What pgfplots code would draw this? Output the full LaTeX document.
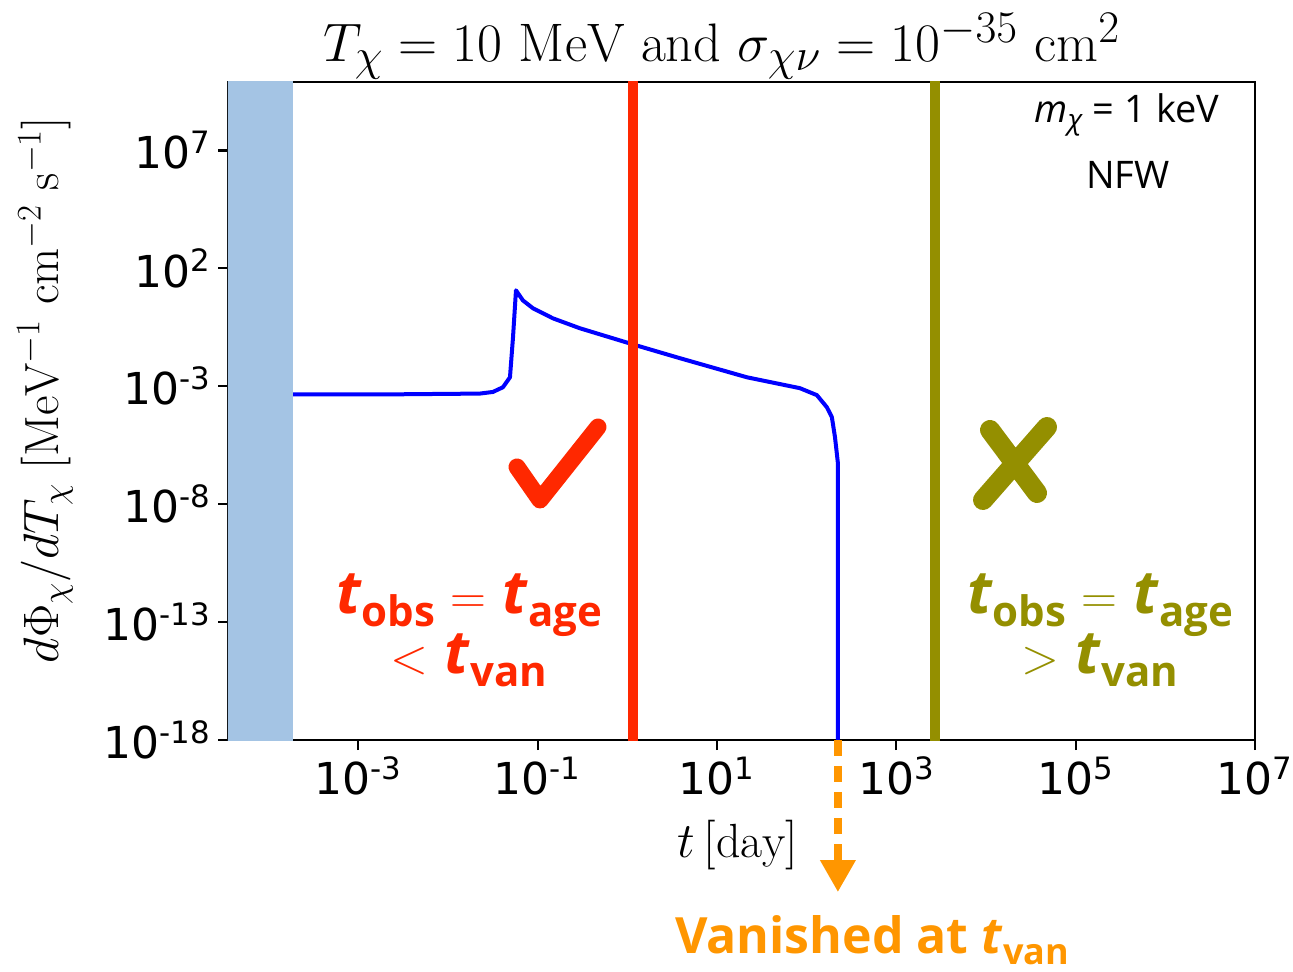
\documentclass[border=0pt]{standalone}
\usepackage{fontspec}
\usepackage{pgfplots}
\pgfplotsset{compat=1.18}
\usetikzlibrary{arrows.meta}

\newfontfamily\tickfont{DejaVu Sans}
\newfontfamily\annfont{Open Sans}

\definecolor{curveblue}{RGB}{0,0,255}
\definecolor{annred}{RGB}{255,40,0}
\definecolor{annolive}{RGB}{148,143,0}
\definecolor{annorange}{RGB}{255,150,0}
\definecolor{shadeblue}{RGB}{164,196,228}

% bold italic t with an upright bold subscript
\newcommand{\tsub}[2][21]{\textit{t}\raisebox{-0.22em}{\fontsize{#1}{#1}\selectfont #2}}
\newcommand{\tenp}[1]{10\textsuperscript{#1}}

\begin{document}
\begin{tikzpicture}
\path[use as bounding box] (-114pt,-116pt) rectangle (532.5pt,370pt);
\begin{axis}[
  at={(0,0)}, anchor=south west,
  scale only axis, width=513.5pt, height=329pt,
  xmode=log, ymode=log,
  xmin=3.52e-5, xmax=1e7, ymin=1e-18, ymax=8e9,
  xtick={1e-3,1e-1,1e1,1e3,1e5,1e7},
  xticklabels={\tenp{-3},\tenp{-1},\tenp{1},\tenp{3},\tenp{5},\tenp{7}},
  ytick={1e-18,1e-13,1e-8,1e-3,1e2,1e7},
  yticklabels={\tenp{-18},\tenp{-13},\tenp{-8},\tenp{-3},\tenp{2},\tenp{7}},
  minor xtick={}, minor ytick={},
  xminorticks=false, yminorticks=false,
  tick align=outside, xtick pos=left, ytick pos=left,
  major tick length=5pt,
  tick style={black, line width=1.1pt},
  axis line style={black, line width=1.3pt},
  ticklabel style={font=\tickfont\fontsize{22}{24}\selectfont},
  clip mode=individual,
]
% early-time band
\addplot[fill=shadeblue, draw=none] coordinates
  {(1e-6,1e-22) (1.87e-4,1e-22) (1.87e-4,1e12) (1e-6,1e12)} -- cycle;

% flux of the boosted component
\addplot[curveblue, line width=2pt, line join=round] coordinates {
  (1.87e-4,4.57e-4) (2.88e-3,4.57e-4) (0.0227,4.9e-4) (0.0317,5.75e-4)
  (0.0410,9.1e-4) (0.0491,2.4e-3) (0.0531,0.12) (0.0573,11.7)
  (0.0685,4.37) (0.0885,2.04) (0.148,0.76) (0.296,0.288)
  (1.15,0.060) (3.86,0.0155) (21.6,2.4e-3) (84.1,8.3e-4)
  (130,4.2e-4) (168,1.29e-4) (191,4.9e-5) (207,6.9e-6)
  (223,5.5e-7) (223,1e-22)
};

% observation times
\addplot[annred, line width=5pt] coordinates {(1.15,1e-22) (1.15,1e12)};
\addplot[annolive, line width=4.6pt] coordinates {(2700,1e-22) (2700,1e12)};

\coordinate (van) at (axis cs:223,1e-18);
\end{axis}

% vanishing time marker
\draw[annorange, line width=3.6pt, dash pattern=on 8pt off 5pt,
      -{Triangle[width=17pt,length=16pt]}] (van) -- ++(0,-76pt);
\node[annorange, font=\annfont\bfseries\fontsize{25}{28}\selectfont]
  at (322pt,-100pt) {Vanished at \tsub[18]{van}};

% title and axis labels
\node[font=\fontsize{24.88}{30}\selectfont, scale=1.09] at (247pt,347pt)
  {$T_\chi = 10\ \mathrm{MeV}$ and $\sigma_{\chi\nu} = 10^{-35}\ \mathrm{cm}^2$};
\node[font=\fontsize{24}{28}\selectfont] at (255pt,-52.5pt) {$t\,[\mathrm{day}]$};
\node[font=\fontsize{24}{28}\selectfont, rotate=90] at (-91.5pt,175pt)
  {$d\Phi_\chi/dT_\chi\ [\mathrm{MeV}^{-1}\ \mathrm{cm}^{-2}\ \mathrm{s}^{-1}]$};

% model labels
\node[font=\annfont\fontsize{19}{22}\selectfont] at (449.5pt,312.5pt)
  {\textit{m}\raisebox{-0.2em}{\fontsize{14}{14}\selectfont\textit{χ}} = 1 keV};
\node[font=\annfont\fontsize{19}{22}\selectfont] at (450pt,282.5pt) {NFW};

% tick and cross
\draw[annred, line width=8.5pt, line cap=round, line join=round]
  (144.5pt,136.5pt) -- (156pt,120pt) -- (185pt,156.5pt);
\draw[annolive, line width=10pt, line cap=round]
  (381pt,155pt) -- (404.5pt,123.5pt)
  (409.5pt,156.5pt) -- (377.5pt,120pt);

% conditions
\begin{scope}[font=\annfont\bfseries\fontsize{30}{33}\selectfont]
\node[annred] at (120.5pt,67.5pt) {\tsub{obs} $=$ \tsub{age}};
\node[annred] at (120.5pt,40pt) {$<$ \tsub{van}};
\node[annolive] at (436pt,67.5pt) {\tsub{obs} $=$ \tsub{age}};
\node[annolive] at (436pt,40pt) {$>$ \tsub{van}};
\end{scope}
\end{tikzpicture}
\end{document}
